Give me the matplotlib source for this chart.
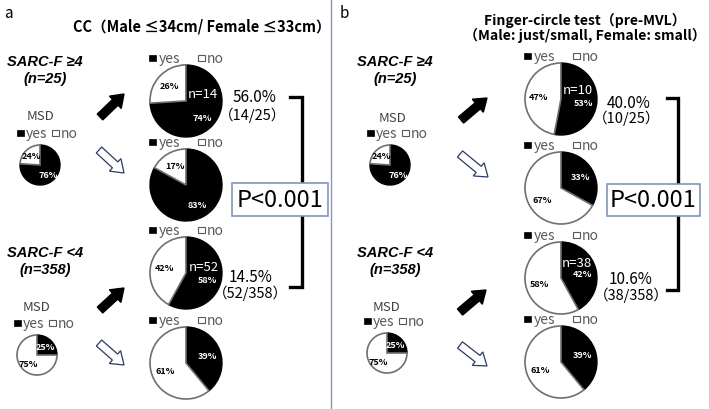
import matplotlib.pyplot as plt
import matplotlib.patches as mpatches

plt.rcParams['font.family'] = ['Noto Sans CJK JP', 'DejaVu Sans']

W, H = 709, 410  # canvas in pixels, y is measured from the top

# ---- data ----
panel_labels = ["a", "b"]
panel_titles = ["CC（Male ≤34cm/ Female ≤33cm）",
                "Finger-circle test（pre-MVL）\n（Male: just/small, Female: small）"]
group_names = ["SARC-F ≥4", "SARC-F <4"]
group_sizes = ["(n=25)", "(n=358)"]
msd_yes = [76, 25]                 # MSD yes % in each SARC-F group
cc_yes = [[74, 83], [58, 39]]      # MSD yes % for CC positive / negative
fc_yes = [[53, 33], [42, 39]]      # MSD yes % for finger-circle positive / negative
cc_n = ["n=14", "n=52"]
fc_n = ["n=10", "n=38"]
cc_rate = ["56.0%", "14.5%"]
cc_frac = ["（14/25）", "（52/358）"]
fc_rate = ["40.0%", "10.6%"]
fc_frac = ["（10/25）", "（38/358）"]
p_text = "P<0.001"

panel_yes = [cc_yes, fc_yes]
panel_n = [cc_n, fc_n]
panel_rate = [cc_rate, fc_rate]
panel_frac = [cc_frac, fc_frac]

# ---- layout (pixel positions) ----
layout = [
    dict(letter=(8, 14), title=(202, 27), left_x=45,
         rows=[dict(lab=62, msd=(40, 117), small=(40, 166), up=((100, 118), (124, 95)),
                    down=((99, 151), (124, 174)), pies=[(186, 102), (186, 186)],
                    rate=(255, 97), frac=(253, 115), npos=(0.46, 0.22)),
               dict(lab=253, msd=(37, 308), small=(37, 356), up=((100, 311), (124, 289)),
                    down=((99, 344), (124, 366)), pies=[(186, 274), (186, 364)],
                    rate=(251, 277), frac=(250, 293), npos=(0.5, 0.18))],
         explode=[[0.1, 0], [0.04, 0]],
         bracket=(290, 302, 98, 288), box=(232, 184, 328, 217)),
    dict(letter=(344, 14), title=(585, 28), left_x=395,
         rows=[dict(lab=62, msd=(393, 118), small=(390, 166), up=((461, 121), (487, 99)),
                    down=((460, 155), (488, 178)), pies=[(561, 100), (561, 189)],
                    rate=(629, 103), frac=(627, 118), npos=(0.47, 0.26)),
               dict(lab=253, msd=(387, 308), small=(387, 354), up=((460, 313), (486, 291)),
                    down=((460, 346), (487, 367)), pies=[(561, 279), (561, 363)],
                    rate=(631, 280), frac=(631, 295), npos=(0.45, 0.44))],
         explode=[[0.03, 0], [0.04, 0]],
         bracket=(667, 678, 99, 291), box=(607, 185, 700, 217)),
]

GRAY = "#595959"
EDGE = "#6f6f6f"


def Y(y):
    return H - y


def legend(ax, cx, y, big):
    # "■yes □no" key drawn above every pie
    if big:
        offs = (-37, -27, 12, 21)
    else:
        offs = (-23, -14, 12, 21)
    s = 6.5
    ax.add_patch(mpatches.Rectangle((cx + offs[0], Y(y) - s / 2), s, s,
                                    facecolor="black", edgecolor="black", lw=0.5))
    ax.text(cx + offs[1], Y(y), "yes", color=GRAY, fontsize=10, va="center", ha="left")
    ax.add_patch(mpatches.Rectangle((cx + offs[2], Y(y) - s / 2), s, s,
                                    facecolor="white", edgecolor=GRAY, lw=0.8))
    ax.text(cx + offs[3], Y(y), "no", color=GRAY, fontsize=10, va="center", ha="left")


def draw_pie(ax, center, r, yes, explode, fs, n_label=None, npos=None):
    wedges, texts, autotexts = ax.pie(
        [yes, 100 - yes], explode=[0, explode], colors=["black", "white"],
        startangle=90, counterclock=False, radius=r, center=(center[0], Y(center[1])),
        autopct="%.0f%%", pctdistance=0.62,
        wedgeprops=dict(edgecolor="black", linewidth=1.0),
        textprops=dict(fontsize=fs, fontweight="bold"))
    wedges[1].set_edgecolor(EDGE)
    wedges[1].set_linewidth(1.2)
    autotexts[0].set_color("white")
    autotexts[1].set_color("black")
    if n_label is not None:
        x, y = autotexts[0].get_position()
        autotexts[0].set_position((x, y - 0.04 * r))
        ax.text(center[0] + npos[0] * r, Y(center[1]) + npos[1] * r, n_label,
                color="white", fontsize=9.5, ha="center", va="center")


fig = plt.figure(figsize=(W / 100, H / 100), dpi=100)
ax = fig.add_axes([0, 0, 1, 1])

# divider between the two panels
ax.plot([331, 331], [0, H], color="#8797b4", lw=1.0)

for p, lay in enumerate(layout):
    ax.text(lay["letter"][0], Y(lay["letter"][1]), panel_labels[p], fontsize=11,
            ha="center", va="center")
    ax.text(lay["title"][0], Y(lay["title"][1]), panel_titles[p],
            fontsize=10.5 if p == 0 else 10.1,
            fontweight="bold", ha="center", va="center", linespacing=1.05)

    for g, row in enumerate(lay["rows"]):
        ax.text(lay["left_x"], Y(row["lab"]), group_names[g], fontsize=10.5,
                family=["Liberation Sans", "DejaVu Sans"], style="italic",
                fontweight="bold", ha="center", va="center")
        ax.text(lay["left_x"], Y(row["lab"] + 17), group_sizes[g], fontsize=10.5,
                family=["Liberation Sans", "DejaVu Sans"], style="italic",
                fontweight="bold", ha="center", va="center")

        # MSD pie for the whole SARC-F group
        mx, my = row["msd"]
        ax.text(mx, Y(my), "MSD", color="#404040", fontsize=9.5, ha="center", va="center")
        sx, sy = row["small"]
        legend(ax, sx, sy - 32, big=False)
        draw_pie(ax, (sx, sy), 20, msd_yes[g], 0, 6.5)

        # arrows to the test-positive / test-negative pies
        (x0, y0), (x1, y1) = row["up"]
        ax.add_patch(mpatches.FancyArrow(x0, Y(y0), x1 - x0, Y(y1) - Y(y0), width=8,
                                         head_width=17, head_length=12,
                                         length_includes_head=True,
                                         facecolor="black", edgecolor="black"))
        (x0, y0), (x1, y1) = row["down"]
        ax.add_patch(mpatches.FancyArrow(x0, Y(y0), x1 - x0, Y(y1) - Y(y0), width=8,
                                         head_width=17, head_length=12,
                                         length_includes_head=True,
                                         facecolor="white", edgecolor="#2b3a66", lw=0.9))

        for k, (cx, cy) in enumerate(row["pies"]):
            legend(ax, cx, cy - 43, big=True)
            draw_pie(ax, (cx, cy), 36, panel_yes[p][g][k], lay["explode"][g][k], 6.5,
                     n_label=panel_n[p][g] if k == 0 else None, npos=row["npos"])

        ax.text(row["rate"][0], Y(row["rate"][1]), panel_rate[p][g], fontsize=11,
                ha="center", va="center")
        ax.text(row["frac"][0], Y(row["frac"][1]), panel_frac[p][g], fontsize=10.5,
                ha="center", va="center")

    # bracket joining the two test-positive rates
    bx0, bx1, by0, by1 = lay["bracket"]
    ax.plot([bx0, bx1, bx1, bx0], [Y(by0), Y(by0), Y(by1), Y(by1)], color="black",
            lw=2.4, solid_joinstyle="miter")
    x0, y0, x1, y1 = lay["box"]
    ax.add_patch(mpatches.Rectangle((x0, Y(y1)), x1 - x0, y1 - y0, facecolor="white",
                                    edgecolor="#7f96b8", lw=1.2, zorder=3))
    ax.text((x0 + x1) / 2, Y((y0 + y1) / 2), p_text, fontsize=17, ha="center",
            va="center", zorder=4)

ax.set_xlim(0, W)
ax.set_ylim(0, H)
ax.set_aspect("auto")
ax.axis("off")
fig.savefig("out.png", dpi=100)
